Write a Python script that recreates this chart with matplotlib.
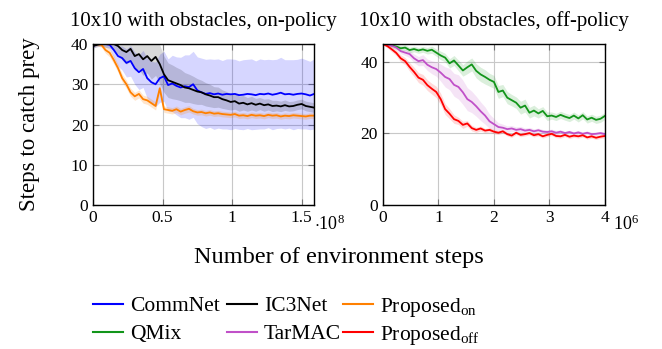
import numpy as np
import matplotlib.pyplot as plt
from matplotlib.lines import Line2D

plt.rcParams['font.family'] = ['Liberation Serif', 'DejaVu Serif']
plt.rcParams['mathtext.fontset'] = 'custom'
plt.rcParams['mathtext.rm'] = 'Liberation Serif'
plt.rcParams['mathtext.it'] = 'Liberation Serif:italic'

# ---- on-policy (x in units of 1e8 steps) ----
x_on = np.arange(54) * 0.03
commnet = [39.5, 40, 40, 40, 39.8, 38.5, 37, 36.5, 35.3, 35.8, 34, 33, 33.8, 31.5, 30.5, 30,
           31.5, 32, 29.8, 30.2, 29.6, 29.2, 29.5, 29.3, 30, 28.5, 28, 27.6, 27.8, 27.5, 27.7,
           27.4, 27.6, 27.5, 27.6, 27.3, 27.4, 27.6, 27.5, 27.3, 27.6, 27.5, 27.7, 27.4, 27.6,
           27.9, 27.5, 27.6, 27.4, 27.6, 27.7, 27.5, 27.2, 27.6]
commnet_sd = [0.5, 0.5, 0.5, 0.8, 1, 2, 2.5, 3, 3.5, 3.8, 4, 4.3, 4.6, 5, 5.2, 5.5, 6, 6.2, 6.5,
              7, 7.2, 7.5, 7.8, 8, 8.2, 8.3, 8.5, 8.6, 8.5, 8.7, 8.6, 8.5, 8.7, 8.8, 8.6, 8.5,
              8.7, 8.6, 8.8, 8.5, 8.7, 8.6, 8.5, 8.7, 8.6, 8.8, 8.6, 8.5, 8.7, 8.6, 8.8, 8.6,
              8.5, 8.7]
ic3net = [39.5, 39.8, 40, 40, 40, 40, 39.5, 38.5, 38, 38.8, 37, 37.5, 36.2, 37, 35.8, 36.8,
          35, 32.5, 31, 30.6, 30.2, 29.8, 29.2, 29, 28.6, 28.2, 28, 27.5, 27.2, 26.8, 26.8,
          26.3, 26, 25.6, 25.8, 25.2, 25.4, 25, 25.3, 24.9, 25.2, 24.8, 25, 24.6, 24.7, 24.5,
          24.8, 24.5, 24.6, 24.9, 25.1, 24.6, 24.4, 24.2]
ic3net_sd = [0.5, 0.5, 0.5, 0.8, 1, 1.5, 2, 2.5, 3, 3, 3.5, 3.8, 4, 4.2, 4.5, 4.6, 4.8, 4.5,
             4.3, 4.2, 4, 3.9, 3.7, 3.5, 3.4, 3.2, 3, 2.9, 2.8, 2.6, 2.5, 2.3, 2.2, 2, 2, 1.9,
             1.8, 1.7, 1.7, 1.6, 1.5, 1.5, 1.4, 1.4, 1.3, 1.3, 1.3, 1.2, 1.2, 1.2, 1.2, 1.2,
             1.2, 1.2]
prop_on = [40, 40, 39.8, 38.5, 37.8, 36, 34, 31.5, 30, 28, 27, 27.6, 26.3, 26, 25.3, 24.6,
           29, 23.8, 23.6, 23.4, 23.8, 23.2, 23.6, 23.9, 23.3, 23, 23.1, 22.8, 23, 22.7, 22.8,
           22.6, 22.5, 22.4, 22.6, 22.2, 22.3, 22.1, 22.4, 22.2, 22.3, 22.1, 22.4, 22.2, 22.3,
           22, 22.2, 22.1, 22.3, 22.2, 22.1, 22, 22.2, 22.2]
prop_on_sd = [0.5, 0.5, 0.6, 0.8, 1, 1, 1, 1, 1, 1, 1, 1, 1, 1, 1, 1, 1, 0.8, 0.8, 0.8, 0.8,
              0.8, 0.8, 0.8, 0.7, 0.7, 0.7, 0.7, 0.7, 0.7, 0.7, 0.7, 0.7, 0.7, 0.7, 0.7, 0.7,
              0.7, 0.7, 0.7, 0.7, 0.7, 0.7, 0.7, 0.7, 0.7, 0.7, 0.7, 0.7, 0.7, 0.7, 0.7, 0.7,
              0.7]

# ---- off-policy (x in units of 1e6 steps) ----
x_off = np.arange(51) * 0.08
qmix = [45, 44.8, 44.6, 44.3, 43.8, 44, 43.3, 43.6, 43.2, 43.5, 43.1, 43.4, 42.6, 41.8, 41.2,
        39.6, 40.4, 39, 37.6, 38.5, 39.3, 37.5, 36.5, 35.8, 35, 34.4, 31.6, 32, 30, 29.3, 28.6,
        27.2, 27.8, 25.8, 26.4, 25.6, 26.3, 24.8, 25, 24.6, 25.2, 24.7, 24.3, 25, 24.2, 25.1,
        23.9, 24.4, 23.8, 24.1, 24.9]
qmix_sd = [0.3, 0.5, 0.6, 0.8, 0.8, 0.8, 0.8, 0.8, 0.8, 0.8, 0.9, 1, 1, 1.2, 1.2, 1.3, 1.4,
           1.5, 1.6, 1.8, 1.8, 2, 2, 2, 1.8, 1.8, 1.8, 1.7, 1.7, 1.6, 1.6, 1.8, 1.8, 1.5, 1.5,
           1.3, 1.2, 1.2, 1, 1, 1, 1, 1, 1, 1, 1, 1, 1, 1, 1, 1]
tarmac = [45, 44.8, 44.5, 44, 43, 42.6, 42.2, 41, 40.2, 40.5, 39.2, 38.5, 38, 37, 35.8, 35.2,
          33.6, 33, 31.5, 29.6, 28.8, 27.6, 26.2, 25, 23.4, 22.6, 21.8, 21.6, 21.2, 21.4, 21,
          21.2, 20.8, 21, 20.6, 20.9, 20.5, 20.4, 20.6, 20.2, 20.5, 20.1, 20.4, 20, 20.3, 19.9,
          20.2, 19.8, 19.9, 20.1, 19.8]
tarmac_sd = [0.3, 0.4, 0.5, 0.6, 0.7, 0.8, 1, 1.2, 1.3, 1.5, 1.6, 1.8, 2, 2.4, 2.8, 3, 3.2,
             3.4, 3.4, 3.2, 3, 2.8, 2.6, 2.4, 2, 1.6, 1.2, 1, 0.9, 0.8, 0.8, 0.8, 0.7, 0.7, 0.7,
             0.6, 0.6, 0.6, 0.6, 0.6, 0.5, 0.5, 0.5, 0.5, 0.5, 0.5, 0.5, 0.5, 0.5, 0.5, 0.5]
prop_off = [45, 44.4, 43.5, 42.5, 41, 40.2, 38.6, 37.2, 35.6, 35, 33.5, 32.5, 31.6, 29.6, 26.8,
            25.5, 24, 23.5, 22.4, 22.8, 21.5, 21, 21.4, 20.8, 21, 20.5, 20.2, 20.6, 19.8, 19.4,
            20.2, 19.6, 19.8, 20.1, 19.5, 19.8, 19.2, 19.6, 19.9, 19.3, 19.2, 19.6, 19.1, 19.4,
            19.2, 19.5, 18.9, 19.2, 18.8, 19.1, 19.3]
prop_off_sd = [0.3, 0.5, 0.7, 0.8, 1, 1, 1.2, 1.3, 1.4, 1.5, 1.5, 1.5, 1.6, 1.6, 1.5, 1.4, 1.2,
               1, 1, 0.8, 0.8, 0.7, 0.7, 0.6, 0.6, 0.6, 0.5, 0.5, 0.5, 0.5, 0.5, 0.5, 0.5, 0.5,
               0.5, 0.5, 0.5, 0.5, 0.5, 0.5, 0.5, 0.5, 0.5, 0.5, 0.5, 0.5, 0.5, 0.5, 0.5, 0.5,
               0.5]

c_blue, c_black, c_orange = '#0000ff', '#000000', '#ff8000'
c_green, c_mag, c_red = '#12951a', '#c050c8', '#ff0000'

W, H = 662, 349
fig = plt.figure(figsize=(W / 100, H / 100), dpi=100)
ax1 = fig.add_axes([0.1405, 0.4126, 0.334, 0.4613])
ax2 = fig.add_axes([0.5785, 0.4126, 0.3353, 0.4613])


def band(ax, x, y, sd, color, a):
    y = np.array(y)
    sd = np.array(sd)
    ax.fill_between(x, y - sd, y + sd, color=color, alpha=a, lw=0)


band(ax1, x_on, commnet, commnet_sd, c_blue, 0.16)
band(ax1, x_on, ic3net, ic3net_sd, c_black, 0.15)
band(ax1, x_on, prop_on, prop_on_sd, c_orange, 0.2)
ax1.plot(x_on, commnet, color=c_blue, lw=1.3)
ax1.plot(x_on, ic3net, color=c_black, lw=1.3)
ax1.plot(x_on, prop_on, color=c_orange, lw=1.3)

band(ax2, x_off, qmix, qmix_sd, c_green, 0.15)
band(ax2, x_off, tarmac, tarmac_sd, c_mag, 0.15)
band(ax2, x_off, prop_off, prop_off_sd, c_red, 0.15)
ax2.plot(x_off, qmix, color=c_green, lw=1.3)
ax2.plot(x_off, tarmac, color=c_mag, lw=1.3)
ax2.plot(x_off, prop_off, color=c_red, lw=1.3)

ax1.set_xlim(0, 1.59)
ax1.set_ylim(0, 40)
ax1.set_xticks([0, 0.5, 1, 1.5], ['0', '0.5', '1', '1.5'])
ax1.set_yticks([0, 10, 20, 30, 40])
ax1.text(1.0, -0.06, r'$\cdot 10^{8}$', transform=ax1.transAxes, fontsize=13, va='top', ha='left')
ax1.set_title('10x10 with obstacles, on-policy', fontsize=15, pad=13)
ax1.set_ylabel('Steps to catch prey', fontsize=16.5, labelpad=22)

ax2.set_xlim(0, 4)
ax2.set_ylim(0, 45)
ax2.set_xticks([0, 1, 2, 3, 4])
ax2.set_yticks([0, 20, 40])
ax2.text(1.035, -0.06, r'$10^{6}$', transform=ax2.transAxes, fontsize=13, va='top', ha='left')
ax2.set_title('10x10 with obstacles, off-policy', fontsize=15, pad=13)

for ax in (ax1, ax2):
    ax.grid(True, color='#c8c8c8', lw=0.8)
    ax.set_axisbelow(True)
    ax.tick_params(direction='in', labelsize=12.5, length=4, color='#777777', top=True, right=True)
    for s in ax.spines.values():
        s.set_linewidth(1.0)

fig.text(0.512, 0.263, 'Number of environment steps', fontsize=17.5, ha='center', va='center')

# legend laid out as a 2x3 grid so both rows line up
leg_labels = [['CommNet', 'IC3Net', r'Proposed$_{\mathrm{on}}$'],
              ['QMix', 'TarMAC', r'Proposed$_{\mathrm{off}}$']]
leg_colors = [[c_blue, c_black, c_orange], [c_green, c_mag, c_red]]
col_px = [93, 227, 343]
row_px = [304, 332]
for r in range(2):
    for c in range(3):
        y = 1 - row_px[r] / H
        x0 = col_px[c] / W
        fig.add_artist(Line2D([x0, x0 + 30 / W], [y, y], transform=fig.transFigure,
                              color=leg_colors[r][c], lw=1.5))
        fig.text(x0 + 37 / W, y, leg_labels[r][c], fontsize=15.5,
                 ha='left', va='center_baseline')

fig.savefig('out.png', dpi=100)
